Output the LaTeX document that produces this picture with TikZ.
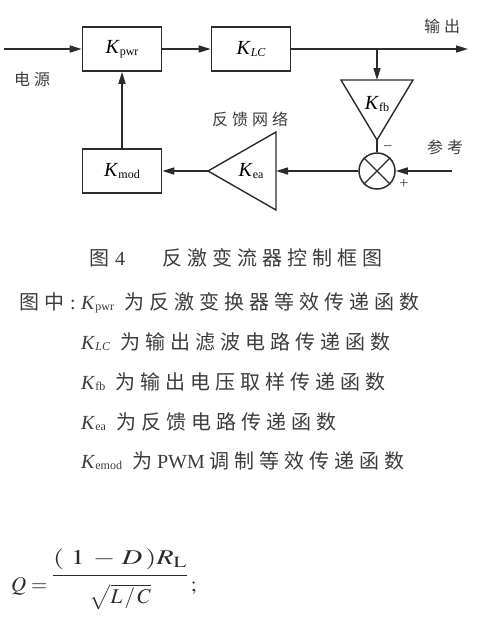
\documentclass[tikz,border=0pt]{standalone}
\usepackage{mathptmx}
\usepackage{graphicx}
\usepackage{fontspec}
\setmainfont{Liberation Serif}
\newfontfamily\cjk[LetterSpace=25]{Noto Sans CJK SC}
\usetikzlibrary{arrows.meta, positioning, calc}
\definecolor{inkGray}{HTML}{2B2B2B}
\definecolor{textGray}{HTML}{3C3C3C}
\newcommand{\kk}[1]{\textit{K}\raisebox{-1.5pt}{\fontsize{12}{12}\selectfont #1}}
\tikzset{
  blockbox/.style={draw=inkGray, line width=1.6pt, minimum width=79pt, minimum height=44pt, inner sep=0pt, font=\fontsize{20}{20}\selectfont},
  gainlabel/.style={inner sep=0pt, font=\fontsize{20}{20}\selectfont},
  sumnode/.style={draw=inkGray, line width=1.5pt, circle, minimum size=36pt, inner sep=0pt},
  sigarr/.style={-{Triangle[length=12pt, width=7pt]}, line width=1.5pt, inkGray},
  sigline/.style={line width=1.4pt, inkGray, line join=miter},
  zhlabel/.style={font=\fontsize{16}{16}\selectfont\cjk, text=textGray, inner sep=0pt},
  signlabel/.style={font=\fontsize{16}{16}\selectfont, text=textGray, inner sep=0pt},
  legendline/.style={anchor=base west, inner sep=0pt, font=\fontsize{20}{20}\selectfont, text=textGray},
}
\begin{document}
\begin{tikzpicture}[x=1pt, y=-1pt]
  \useasboundingbox (0,0) rectangle (486,627);
  % forward path
  \node[blockbox] (pwr) at (122,49) {\kk{pwr}};
  \node[blockbox] (lc) at (251,49) {\kk{\itshape LC}};
  \node[blockbox] (mod) at (122,171) {\kk{mod}};
  \coordinate (src) at (4,49);
  \coordinate (outp) at (468,49);
  \coordinate (tap) at (377,49);
  \draw[sigarr] (src) -- (pwr);
  \draw[sigarr] (pwr) -- (lc);
  \draw[sigarr] (lc) -- (outp);

  % feedback network
  \coordinate (fbin) at (377,80);
  \coordinate (fbout) at (377,140);
  \draw[sigline] (341,80) -- (413,80) -- (fbout) -- cycle;
  \node[gainlabel] (fb) at (377,104) {\kk{fb}};
  \coordinate (eain) at (276,171);
  \coordinate (eaout) at (208,171);
  \draw[sigline] (276,132) -- (276,210) -- (eaout) -- cycle;
  \node[gainlabel] (ea) at (251,171) {\kk{ea}};
  \node[sumnode] (sum) at (377,171) {};
  \draw[sigline] (sum.north west) -- (sum.south east) (sum.north east) -- (sum.south west);
  \coordinate (refin) at (452,171);
  \draw[sigarr] (tap) -- (fbin);
  \draw[sigline] (fbout) -- (sum);
  \draw[sigarr] (refin) -- (sum);
  \draw[sigarr] (sum) -- (eain);
  \draw[sigarr] (eaout) -- (mod);
  \draw[sigarr] (mod) -- (pwr);

  \node[zhlabel] (srclbl) at (32,79) {电源};
  \node[zhlabel] (outlbl) at (442,26) {输出};
  \node[zhlabel] (reflbl) at (445,147) {参考};
  \node[zhlabel] (netlbl) at (250,119) {反馈网络};
  \node[signlabel] (minus) at (388,149) {−};
  \node[signlabel] (plus) at (404,184) {+};

  % caption and key
  \node[legendline] (capnum) at (89,265) {{\cjk 图}\hspace{6pt}4};
  \node[legendline] (captext) at (162,265) {\cjk 反激变流器控制框图};
  \node[legendline] (key0) at (19,309) {{\cjk 图中}\hspace{6pt}:};
  \node[legendline] (key1) at (81,309) {\kk{pwr}\enspace{\cjk 为反激变换器等效传递函数}};
  \node[legendline] (key2) at (81,349) {\kk{\itshape LC}\enspace{\cjk 为输出滤波电路传递函数}};
  \node[legendline] (key3) at (81,389) {\kk{fb}\enspace{\cjk 为输出电压取样传递函数}};
  \node[legendline] (key4) at (81,429) {\kk{ea}\enspace{\cjk 为反馈电路传递函数}};
  \node[legendline] (key5) at (81,468) {\kk{emod}\enspace{\cjk 为}\ PWM\ {\cjk 调制等效传递函数}};

  % quality factor
  \node[legendline, text=inkGray, font=\fontsize{21}{25}\selectfont] (qform) at (11,591)
    {$Q=\raisebox{10pt}{$\displaystyle\frac{\scalebox{1.35}[1]{$(\hspace{5pt}1\hspace{3pt}-\hspace{2pt}D\,)R_{\mathrm{L}}$}\rule[-8pt]{0pt}{0pt}}{\sqrt{L\,/\,C}\rule{0pt}{25pt}}$}\,;$};
\end{tikzpicture}
\end{document}
